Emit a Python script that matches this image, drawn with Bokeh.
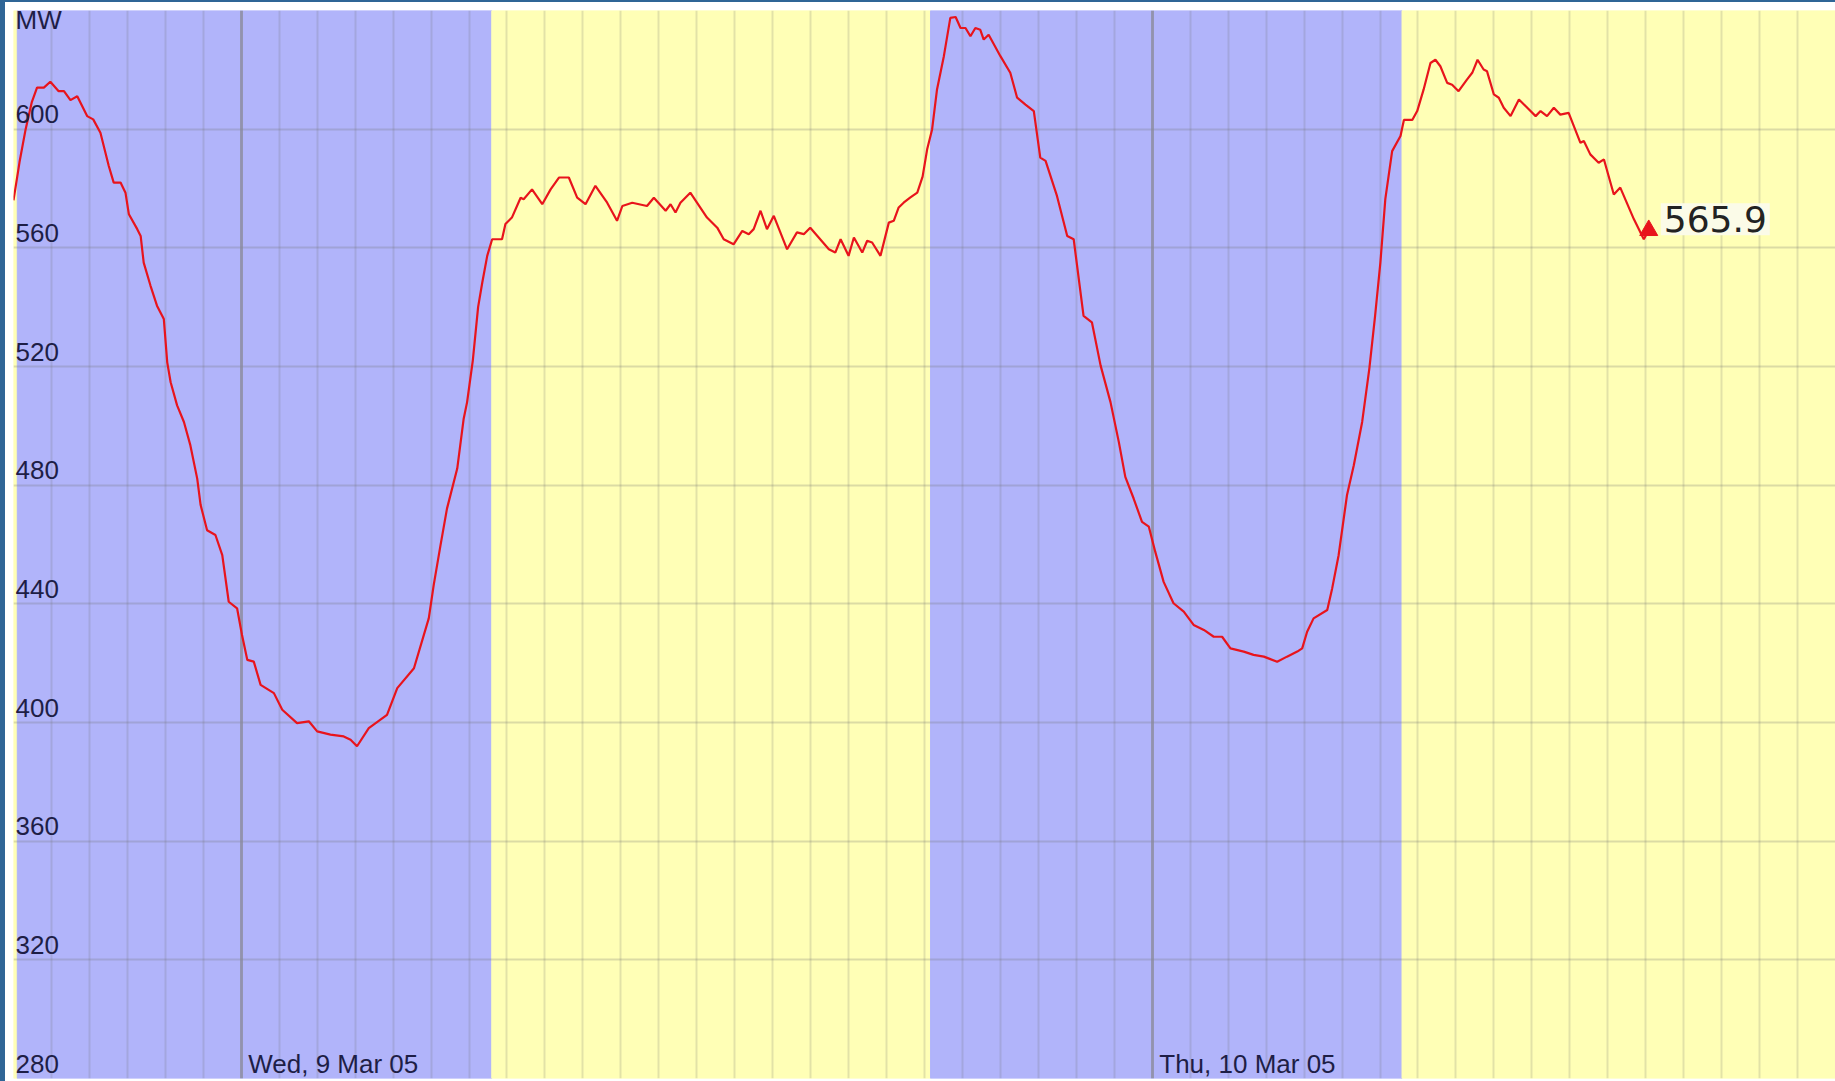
import pandas as pd
from bokeh.plotting import figure
from bokeh.models import ColumnDataSource, FixedTicker, Range1d, Grid, Spacer
from bokeh.layouts import column, row
from bokeh.core.properties import value
from bokeh.embed import file_html
from bokeh.resources import INLINE

# ---------------- data ----------------
START = pd.Timestamp("2005-03-08 18:00")   # left edge of the chart

# hours after START, and demand in MW
hours = [0.00, 0.16, 0.32, 0.48, 0.62, 0.80, 0.97, 1.19, 1.33, 1.50, 1.68, 1.94, 2.10, 2.29, 2.51,
         2.64, 2.82, 2.95, 3.04, 3.26, 3.35, 3.43, 3.61, 3.78, 3.96, 4.05, 4.14, 4.31, 4.49, 4.66,
         4.84, 4.93, 5.10, 5.32, 5.50, 5.67, 5.89, 6.02, 6.16, 6.33, 6.51, 6.86, 7.08, 7.47, 7.78,
         8.00, 8.35, 8.70, 8.88, 9.05, 9.36, 9.84, 10.11, 10.55, 10.94, 11.07, 11.25, 11.42, 11.69,
         11.86, 11.95, 12.10, 12.24, 12.35, 12.48, 12.61, 12.87, 12.96, 13.13, 13.36, 13.44, 13.66,
         13.93, 14.15, 14.37, 14.63, 14.85, 15.07, 15.33, 15.64, 15.90, 16.04, 16.30, 16.69, 16.87,
         17.18, 17.31, 17.44, 17.57, 17.83, 18.27, 18.54, 18.71, 18.97, 19.20, 19.37, 19.50, 19.68,
         19.85, 20.03, 20.38, 20.64, 20.82, 20.99, 21.48, 21.65, 21.79, 22.00, 22.14, 22.36, 22.49,
         22.62, 22.84, 23.06, 23.19, 23.32, 23.45, 23.62, 23.81, 23.95, 24.07, 24.20, 24.33, 24.51,
         24.68, 24.82, 24.95, 25.08, 25.21, 25.34, 25.47, 25.56, 25.69, 26.00, 26.26, 26.44, 26.66,
         26.88, 27.05, 27.19, 27.49, 27.76, 27.93, 28.19, 28.41, 28.64, 28.90, 29.12, 29.29, 29.51,
         29.73, 29.91, 30.08, 30.30, 30.56, 30.83, 31.09, 31.36, 31.62, 31.84, 32.06, 32.41, 32.67,
         32.94, 33.29, 33.55, 33.82, 33.95, 34.08, 34.25, 34.61, 34.74, 34.91, 35.13, 35.31, 35.53,
         35.72, 35.87, 36.01, 36.14, 36.32, 36.54, 36.63, 36.85, 36.98, 37.15, 37.33, 37.46, 37.59,
         37.77, 37.90, 38.07, 38.29, 38.43, 38.57, 38.73, 38.82, 39.00, 39.13, 39.26, 39.44, 39.66,
         39.88, 40.10, 40.23, 40.40, 40.58, 40.75, 40.97, 41.28, 41.37, 41.54, 41.76, 41.90, 42.16,
         42.33, 42.69, 42.95, 43.08]
mw = [576.0, 589.0, 600.0, 609.0, 614.0, 614.0, 616.0, 612.8, 612.8, 609.8, 611.1, 604.4, 603.3, 598.8, 587.6,
      582.0, 582.0, 578.6, 571.3, 566.3, 564.0, 555.0, 547.2, 540.5, 536.0, 521.4, 514.7, 506.9, 501.3, 493.4,
      482.2, 473.3, 464.8, 463.2, 456.4, 440.7, 438.5, 429.5, 421.1, 420.5, 412.7, 409.9, 404.3, 399.8, 400.4,
      397.0, 395.9, 395.3, 394.2, 392.0, 398.1, 402.6, 411.6, 418.3, 435.1, 446.3, 459.8, 472.1, 485.6,
      502.4, 508.0, 522.0, 540.0, 548.3, 557.3, 562.9, 562.9, 568.0, 570.2, 576.9, 576.4, 579.7,
      574.7, 579.7, 583.7, 583.7, 576.9, 574.7, 580.9, 575.2, 569.1, 574.1, 575.2, 574.1, 576.9,
      572.5, 574.7, 571.9, 575.2, 578.6, 570.2, 566.8, 562.9, 561.2, 565.7, 564.6, 566.3, 572.5,
      566.3, 570.8, 559.5, 565.2, 564.6, 566.8, 559.5, 558.4, 562.9, 557.3, 563.5, 558.4, 562.4,
      561.8, 557.3, 568.5, 569.1, 573.6, 575.2, 576.9, 578.6, 584.0, 593.2, 599.9, 613.4, 624.6,
      637.5, 637.8, 634.1, 634.1, 631.3, 634.1, 633.5, 630.2, 631.8, 624.6, 619.0, 610.6, 608.3,
      606.1, 590.4, 589.3, 577.5, 564.0, 562.9, 537.1, 534.9, 520.3, 508.0, 494.5, 482.8, 475.5,
      467.6, 466.0, 457.5, 447.4, 440.2, 437.4, 432.9, 431.2, 428.9, 428.9, 425.0, 423.9, 422.8,
      422.2, 420.5, 422.2, 423.9, 425.0, 430.6, 435.1, 437.9, 445.2, 456.4, 476.6, 486.7, 501.3,
      519.4, 537.0, 555.0, 576.4, 592.6, 597.7, 603.1, 603.1, 606.1, 613.4, 622.3, 623.4, 621.2,
      615.6, 615.0, 612.8, 616.7, 619.0, 623.4, 620.1, 619.5, 611.7, 610.6, 607.2, 604.4, 610.0,
      607.2, 604.4, 606.1, 604.4, 607.2, 604.9, 605.5, 595.4, 596.0, 591.5, 588.7, 589.8, 578.0,
      580.3, 569.6, 562.9, 565.9]

# daylight / darkness bands (hours after START)
band_from = [0.00, 0.10, 12.60, 24.16, 36.58]
band_to = [0.10, 12.60, 24.16, 36.58, 48.00]
band_kind = ["day", "night", "day", "night", "day"]

y_ticks = [280, 320, 360, 400, 440, 480, 520, 560, 600]
y_unit = "MW"
day_dates = ["2005-03-09", "2005-03-10"]
day_labels = ["Wed, 9 Mar 05", "Thu, 10 Mar 05"]
last_label = "565.9"

# ---------------- styling ----------------
Y_MIN, Y_MAX = 280, 640
SPAN_HOURS = 48
NIGHT = "#b1b4fa"
DAY = "#ffffb6"
LINE = "#e8141c"
TXT = "#1e1e46"
FRAME = "#2f6596"
FONT = value("Liberation Sans")

def at(h):
    return START + pd.Timedelta(hours=h)

times = [at(h) for h in hours]
src = ColumnDataSource(dict(t=times, mw=mw))

bands = ColumnDataSource(dict(
    left=[at(h) for h in band_from],
    right=[at(h) for h in band_to],
    color=[DAY if k == "day" else NIGHT for k in band_kind],
))

p = figure(width=1830, height=1079, x_axis_type="datetime",
           x_range=Range1d(START, at(SPAN_HOURS)), y_range=Range1d(Y_MIN, Y_MAX),
           x_axis_location=None, y_axis_location=None,
           output_backend="svg", toolbar_location=None,
           min_border_left=8, min_border_top=8, min_border_right=0, min_border_bottom=3,
           border_fill_color="white", outline_line_color=None, background_fill_color="white")

p.quad(left="left", right="right", bottom=Y_MIN, top=Y_MAX, color="color",
       source=bands, level="image")

def ms(ts):
    return ts.value / 1e6

hour_ticks = [ms(at(k)) for k in range(0, SPAN_HOURS + 1)]
midnights = [ms(pd.Timestamp(d)) for d in day_dates]

p.xgrid.ticker = FixedTicker(ticks=hour_ticks)
p.xgrid.grid_line_color = "#707070"
p.xgrid.grid_line_alpha = 0.2
p.xgrid.grid_line_width = 2
p.ygrid.ticker = FixedTicker(ticks=y_ticks)
p.ygrid.grid_line_color = "#707070"
p.ygrid.grid_line_alpha = 0.25
p.ygrid.grid_line_width = 2

major = Grid(dimension=0, ticker=FixedTicker(ticks=midnights),
             grid_line_color="#8a8a9a", grid_line_alpha=0.7, grid_line_width=3)
p.add_layout(major)

p.line(x="t", y="mw", source=src, line_color=LINE, line_width=2.2)

# y tick labels drawn inside the plot
p.text(x=[START] * len(y_ticks), y=y_ticks, text=[str(v) for v in y_ticks],
       text_font=FONT, text_font_size="26px", text_color=TXT,
       text_baseline="alphabetic", x_offset=2, y_offset=-15)
p.text(x=[START], y=[Y_MAX], text=[y_unit], text_font=FONT, text_font_size="26px",
       text_color=TXT, text_baseline="alphabetic", x_offset=2, y_offset=9)

# day labels at bottom
p.text(x=[pd.Timestamp(d) for d in day_dates], y=[Y_MIN] * len(day_dates), text=day_labels,
       text_font=FONT, text_font_size="26px", text_color=TXT,
       text_baseline="alphabetic", x_offset=7, y_offset=-15)

# last-value marker and label
p.scatter(x=[times[-1]], y=[mw[-1]], marker="triangle", size=18, color=LINE)
p.text(x=[times[-1]], y=[mw[-1]], text=[last_label], text_font=value("DejaVu Sans"),
       text_font_size="36px", text_color="#222222", text_baseline="middle",
       x_offset=12, y_offset=-11, background_fill_color="#fbfbe8", padding=3)

top_bar = Spacer(width=1835, height=2, styles={"background-color": FRAME})
left_bar = Spacer(width=5, height=1079, styles={"background-color": FRAME})
layout = column(top_bar, row(left_bar, p, spacing=0), spacing=0)

open("out.html", "w").write(file_html(layout, INLINE))
